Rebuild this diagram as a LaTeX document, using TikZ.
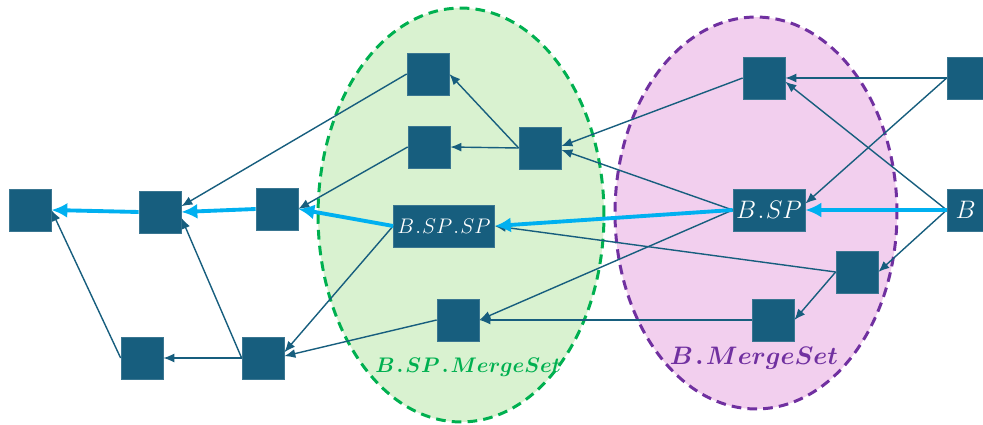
\documentclass[tikz,border=0pt]{standalone}
\usepackage{tikz}
\usetikzlibrary{arrows.meta,positioning}
\definecolor{blkfill}{HTML}{175E7E}
\definecolor{chainblue}{HTML}{00B0F0}
\definecolor{mgreenfill}{HTML}{D9F2D0}
\definecolor{mgreen}{HTML}{00B050}
\definecolor{mpurplefill}{HTML}{F2CFEE}
\definecolor{mpurple}{HTML}{7030A0}
\tikzset{
  dagblock/.style={draw=blkfill!85!white, fill=blkfill, minimum width=0.84cm, minimum height=0.84cm, inner sep=0pt, text=white},
  dagedge/.style={-{Latex[length=2.2mm,width=1.8mm]}, draw=blkfill, line width=0.8pt},
  chainedge/.style={-{Latex[length=3.2mm,width=3mm]}, draw=chainblue, line width=2.2pt},
  mergeset/.style={line width=1.7pt, dash pattern=on 5.5pt off 3.5pt},
  setlabel/.style={font={\fontsize{12.5pt}{15pt}\selectfont\boldmath}}
}

\begin{document}
\begin{tikzpicture}[x=0.02cm, y=-0.02cm]
\useasboundingbox (0,0) rectangle (983,425);
% merge sets
\draw[mergeset, draw=mgreen, fill=mgreenfill] (461,215) ellipse [x radius=2.86cm, y radius=4.14cm];
\draw[mergeset, draw=mpurple, fill=mpurplefill] (756,213) ellipse [x radius=2.82cm, y radius=3.92cm];
\node[setlabel, text=mgreen] (lblsp) at (468,367) {$B\mkern1.5mu.\mkern1.5muSP\mkern1.5mu.\mkern1.5muMergeSet$};
\node[setlabel, text=mpurple, font={\fontsize{15pt}{18pt}\selectfont\boldmath}] (lblb) at (754,358) {$B\mkern1.5mu.\mkern1.5muMergeSet$};
% blocks
\node[dagblock] (n1) at (30,210) {};
\node[dagblock] (n2) at (160,212) {};
\node[dagblock] (n3) at (277,209) {};
\node[dagblock] (n4) at (142,358) {};
\node[dagblock] (n5) at (263,358) {};
\node[dagblock] (g1) at (428,74) {};
\node[dagblock] (g2) at (429,147) {};
\node[dagblock] (g3) at (540,148) {};
\node[dagblock, minimum width=2.02cm, font={\fontsize{13pt}{15pt}\selectfont}] (bspsp) at (444,226) {$B\mkern1mu.\mkern1muSP\mkern1mu.\mkern1muSP$};
\node[dagblock] (g4) at (458,320) {};
\node[dagblock] (p1) at (764,78) {};
\node[dagblock, minimum width=1.44cm, font={\fontsize{15pt}{17pt}\selectfont}] (bsp) at (769,210) {$B\mkern1mu.\mkern1muSP$};
\node[dagblock] (p2) at (857,272) {};
\node[dagblock] (p3) at (773,320) {};
\node[dagblock] (r1) at (968,78) {};
\node[dagblock, font={\fontsize{15pt}{18pt}\selectfont}] (b) at (968,210) {$B$\hspace*{0.9mm}};
% parent links
\draw[dagedge] (n4.west) -- (n1.east);
\draw[dagedge] (n5.west) -- (n4.east);
\draw[dagedge] (n5.west) -- (n2.-15);
\draw[dagedge] (g1.west) -- (n2.15);
\draw[dagedge] (g2.west) -- (n3.east);
\draw[dagedge] (bspsp.west) -- (n5.15);
\draw[dagedge] (g4.west) -- (n5.5);
\draw[dagedge] (g3.west) -- (g1.east);
\draw[dagedge] (g3.west) -- (g2.east);
\draw[dagedge] (p1.west) -- (g3.5);
\draw[dagedge] (bsp.west) -- (g3.-5);
\draw[dagedge] (bsp.west) -- (g4.east);
\draw[dagedge] (p2.west) -- (bspsp.east);
\draw[dagedge] (p3.west) -- (g4.east);
\draw[dagedge] (p2.west) -- (p3.east);
\draw[dagedge] (r1.west) -- (p1.east);
\draw[dagedge] (r1.west) -- (bsp.10);
\draw[dagedge] (b.west) -- (p1.-10);
\draw[dagedge] (b.west) -- (p2.east);
% selected parent chain
\draw[chainedge] (n2.west) -- (n1.east);
\draw[chainedge] (n3.west) -- (n2.east);
\draw[chainedge] (bspsp.west) -- (n3.east);
\draw[chainedge] (bsp.west) -- (bspsp.east);
\draw[chainedge] (b.west) -- (bsp.east);
\end{tikzpicture}
\end{document}
